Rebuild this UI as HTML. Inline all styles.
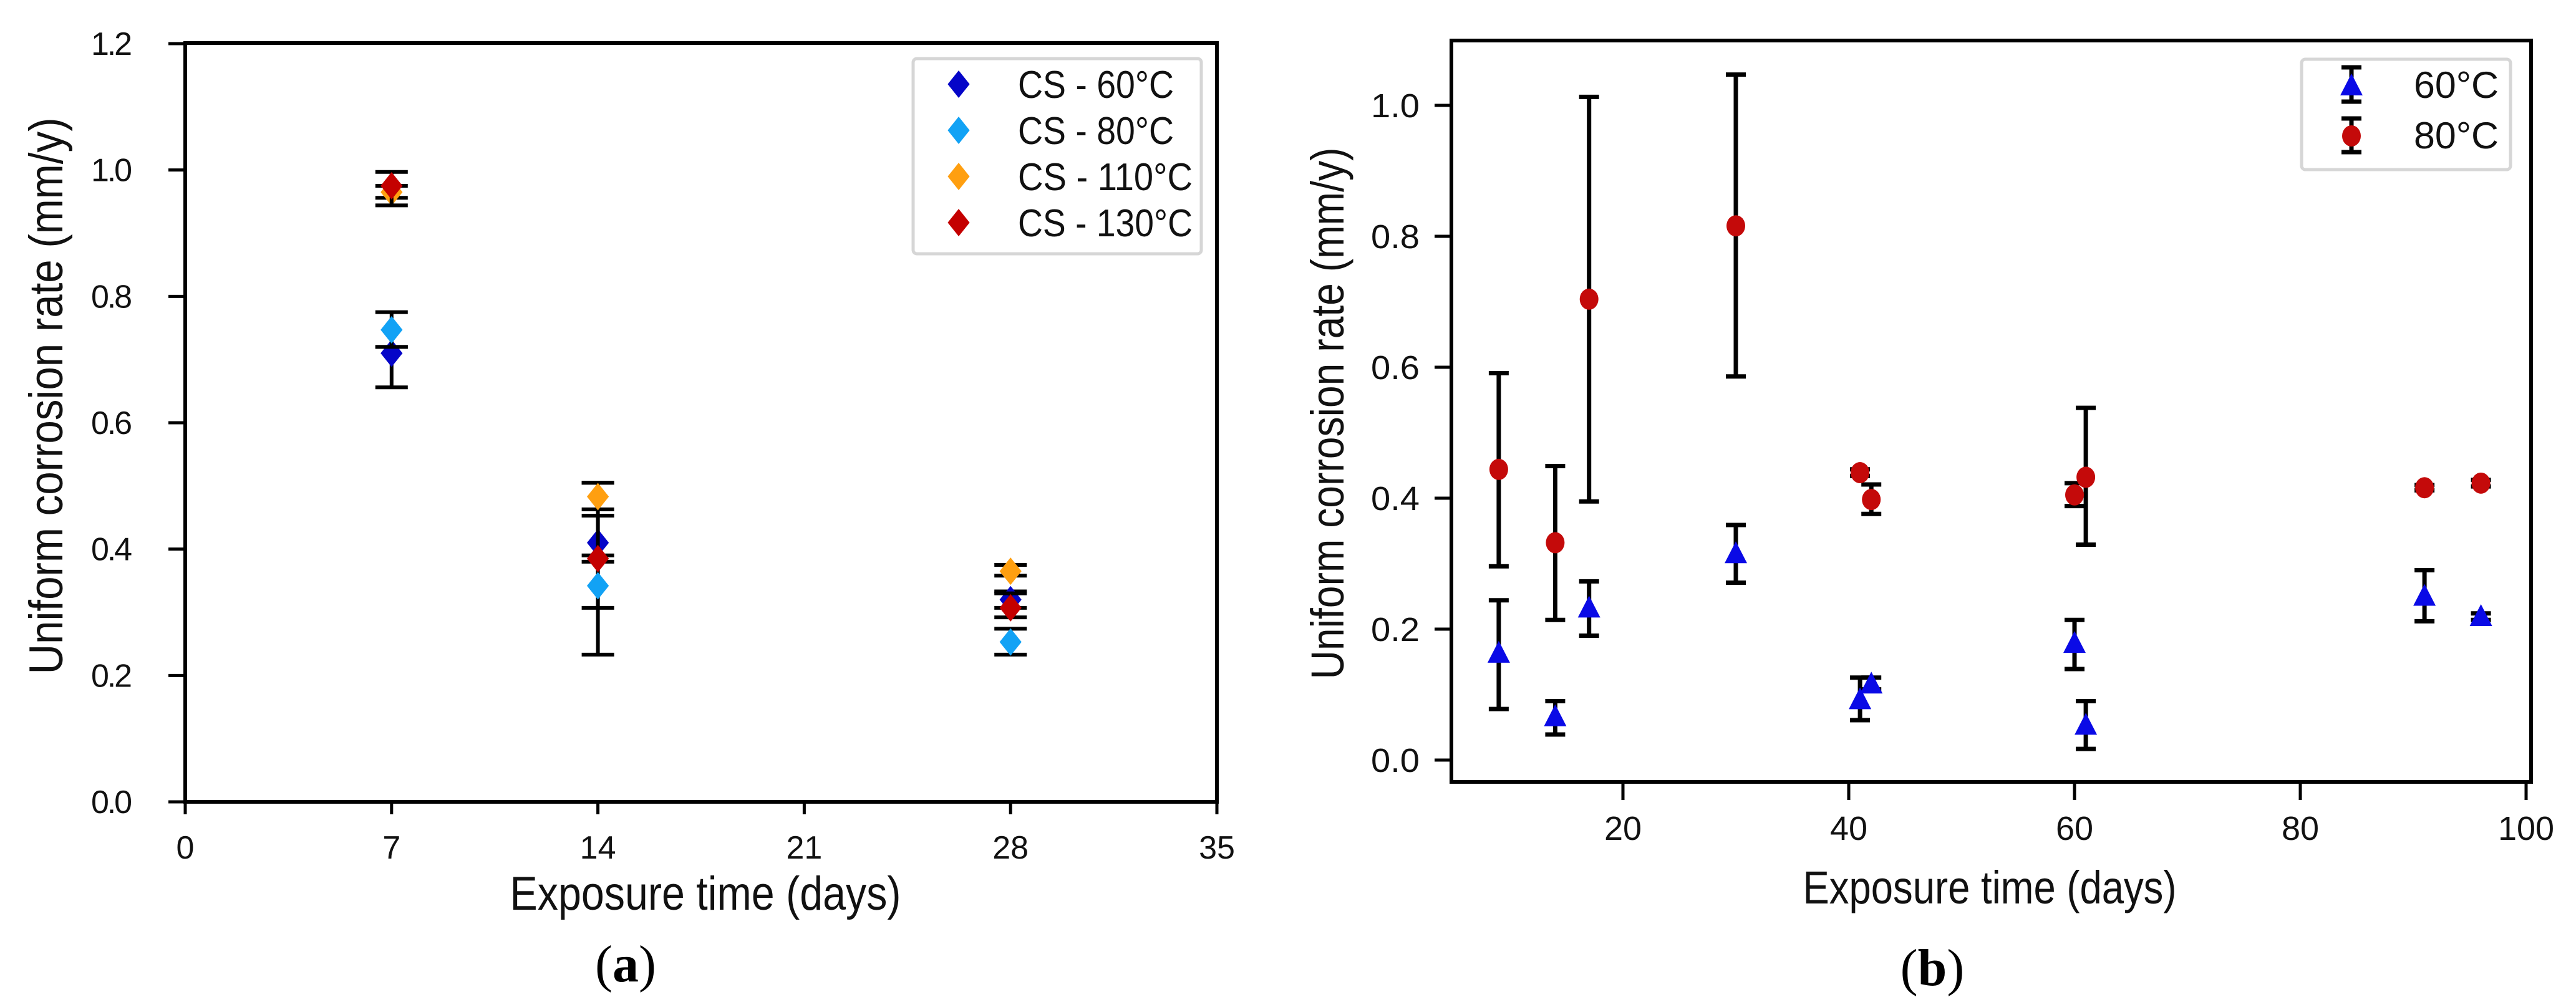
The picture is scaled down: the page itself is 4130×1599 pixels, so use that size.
<!DOCTYPE html>
<html><head><meta charset="utf-8"><style>
html,body{margin:0;padding:0;background:#fff;}
svg{display:block;font-family:"Liberation Sans",Arial,sans-serif;}
</style></head><body>
<svg id="fig" width="4130" height="1599" viewBox="0 0 4130 1599" xmlns="http://www.w3.org/2000/svg">
<rect x="0" y="0" width="4130" height="1599" fill="#fff"/>
</svg>
<script>
// ---------- Panel (a) data ----------
const aDays = [7, 14, 28];
const aSeriesNames = ["CS - 60°C", "CS - 80°C", "CS - 110°C", "CS - 130°C"];
const a60 = [0.71, 0.41, 0.32];
const a60Lo = [0.656, 0.307, 0.307];
const a60Hi = [0.72, 0.505, 0.333];
const a80 = [0.747, 0.342, 0.253];
const a80Lo = [0.72, 0.233, 0.233];
const a80Hi = [0.775, 0.453, 0.274];
const a110 = [0.965, 0.483, 0.365];
const a110Lo = [0.956, 0.463, 0.358];
const a110Hi = [0.975, 0.505, 0.375];
const a130 = [0.975, 0.385, 0.307];
const a130Lo = [0.944, 0.38, 0.292];
const a130Hi = [0.997, 0.39, 0.33];
const aXTicks = [0, 7, 14, 21, 28, 35];
const aYTicks = ["0.0", "0.2", "0.4", "0.6", "0.8", "1.0", "1.2"];

// ---------- Panel (b) data ----------
const bDays = [9, 14, 17, 30, 41, 42, 60, 61, 91, 96];
const b60 = [0.163, 0.066, 0.232, 0.315, 0.092, 0.116, 0.178, 0.053, 0.25, 0.219];
const b60Lo = [0.078, 0.039, 0.19, 0.271, 0.061, 0.108, 0.139, 0.017, 0.212, 0.214];
const b60Hi = [0.244, 0.09, 0.273, 0.359, 0.126, 0.126, 0.214, 0.09, 0.29, 0.224];
const b80 = [0.444, 0.332, 0.704, 0.816, 0.439, 0.398, 0.405, 0.432, 0.416, 0.423];
const b80Lo = [0.296, 0.214, 0.395, 0.586, 0.434, 0.376, 0.388, 0.329, 0.412, 0.418];
const b80Hi = [0.591, 0.449, 1.013, 1.047, 0.444, 0.421, 0.423, 0.538, 0.42, 0.428];
const bXTicks = [20, 40, 60, 80, 100];
const bYTicks = ["0.0", "0.2", "0.4", "0.6", "0.8", "1.0"];

const NS = "http://www.w3.org/2000/svg";
const svg = document.getElementById("fig");
function mk(tag, attrs, parent) {
  const e = document.createElementNS(NS, tag);
  for (const k in attrs) e.setAttribute(k, attrs[k]);
  (parent || svg).appendChild(e);
  return e;
}
function txt(str, attrs, parent) { const t = mk("text", attrs, parent); t.textContent = str; return t; }

const ax = d => 297 + (d - 0) * (1951 - 297) / 35;
const ay = v => 1286 - v * (1286 - 70) / 1.2;
const bx = d => 2602 + (d - 20) * (4050 - 2602) / 80;
const by = v => 1219 - v * 1050;

function diamond(cx, cy, r, fill, g) {
  return mk("polygon", {points: `${cx},${cy-r} ${cx+r*0.8},${cy} ${cx},${cy+r} ${cx-r*0.8},${cy}`, fill: fill}, g);
}
function errbar(x, y1, y2, cap, sw, g) {
  mk("line", {x1: x, x2: x, y1: y1, y2: y2, stroke: "#000", "stroke-width": sw}, g);
  mk("line", {x1: x-cap/2, x2: x+cap/2, y1: y1, y2: y1, stroke: "#000", "stroke-width": sw}, g);
  mk("line", {x1: x-cap/2, x2: x+cap/2, y1: y2, y2: y2, stroke: "#000", "stroke-width": sw}, g);
}

// ================= Panel (a) =================
const ga = mk("g", {});


const frameA = mk("rect", {x: 297, y: 69, width: 1654, height: 1217, fill: "none", stroke: "#000", "stroke-width": 6}, ga);


aYTicks.forEach((lab, i) => {
  const v = parseFloat(lab), y = ay(v);
  const tk = mk("line", {x1: 270, x2: 297, y1: y, y2: y, stroke: "#000", "stroke-width": 5}, ga);
  
  
  const t = txt(lab, {x: 212, y: y + 18, "font-size": 52, "text-anchor": "end", textLength: 66, fill: "#111"}, ga);
  
  
});
aXTicks.forEach(d => {
  const x = ax(d);
  const tk = mk("line", {x1: x, x2: x, y1: 1286, y2: 1306, stroke: "#000", "stroke-width": 5}, ga);
  
  
  const t = txt(String(d), {x: x, y: 1377, "font-size": 52, "text-anchor": "middle", fill: "#111"}, ga);
  
  
});
const xtA = txt("Exposure time (days)", {x: 1131, y: 1459, "font-size": 76, "text-anchor": "middle", textLength: 627, lengthAdjust: "spacingAndGlyphs", fill: "#111"}, ga);


const ytA = txt("Uniform corrosion rate (mm/y)", {x: 0, y: 0, "font-size": 76, "text-anchor": "middle", textLength: 893, lengthAdjust: "spacingAndGlyphs", fill: "#111", transform: "translate(100,635) rotate(-90)"}, ga);



const aSeries = [
  {v: a60, lo: a60Lo, hi: a60Hi, c: "#0505c8"},
  {v: a80, lo: a80Lo, hi: a80Hi, c: "#12a2f5"},
  {v: a110, lo: a110Lo, hi: a110Hi, c: "#ff9f10"},
  {v: a130, lo: a130Lo, hi: a130Hi, c: "#c40000"}
];
aSeries.forEach((s, si) => {
  const g = mk("g", {}, ga);
  
  
  aDays.forEach((d, i) => {
    const eb = mk("g", {}, g);
    
    
    errbar(ax(d), ay(s.hi[i]), ay(s.lo[i]), 52, 6, eb);
  });
  aDays.forEach((d, i) => {
    const p = diamond(ax(d), ay(s.v[i]), 22, s.c, g);
    
    
  });
});
const lgA = mk("g", {}, ga);


mk("rect", {x: 1464, y: 94, width: 462, height: 313, rx: 6, fill: "#fff", stroke: "#d6d6d6", "stroke-width": 5}, lgA);
aSeriesNames.forEach((n, i) => {
  const y = 135 + i * 74;
  const e = mk("g", {}, lgA);
  
  
  diamond(1537, y, 22, aSeries[i].c, e);
  txt(n, {x: 1632, y: y + 22, "font-size": 62, fill: "#111", textLength: i < 2 ? 250 : 280, lengthAdjust: "spacingAndGlyphs"}, e);
});
const capA = mk("text", {x: 1003, y: 1574, "font-size": 84, "text-anchor": "middle", "font-family": "Liberation Serif, serif", fill: "#000"});
capA.innerHTML = '(<tspan font-weight="bold">a</tspan>)';



// ================= Panel (b) =================
const gb = mk("g", {});


const frameB = mk("rect", {x: 2327, y: 65, width: 1731, height: 1189, fill: "none", stroke: "#000", "stroke-width": 6}, gb);


bYTicks.forEach(lab => {
  const y = by(parseFloat(lab));
  const tk = mk("line", {x1: 2300, x2: 2327, y1: y, y2: y, stroke: "#000", "stroke-width": 5}, gb);
  
  
  const t = txt(lab, {x: 2276, y: y + 19, "font-size": 54, "text-anchor": "end", textLength: 78, lengthAdjust: "spacingAndGlyphs", fill: "#111"}, gb);
  
  
});
bXTicks.forEach(d => {
  const x = bx(d);
  const tk = mk("line", {x1: x, x2: x, y1: 1254, y2: 1283, stroke: "#000", "stroke-width": 5}, gb);
  
  
  const t = txt(String(d), {x: x, y: 1347, "font-size": 54, "text-anchor": "middle", fill: "#111"}, gb);
  
  
});
const xtB = txt("Exposure time (days)", {x: 3190, y: 1449, "font-size": 74, "text-anchor": "middle", textLength: 599, lengthAdjust: "spacingAndGlyphs", fill: "#111"}, gb);


const ytB = txt("Uniform corrosion rate (mm/y)", {x: 0, y: 0, "font-size": 74, "text-anchor": "middle", textLength: 853, lengthAdjust: "spacingAndGlyphs", fill: "#111", transform: "translate(2154,663) rotate(-90)"}, gb);



function tri(cx, cy, r, fill, g) {
  return mk("polygon", {points: `${cx},${cy-r} ${cx+r*0.9},${cy+r*0.75} ${cx-r*0.9},${cy+r*0.75}`, fill: fill}, g);
}
const g60 = mk("g", {}, gb);


const g80 = mk("g", {}, gb);


bDays.forEach((d, i) => {
  const e1 = mk("g", {}, g60);
  
  
  errbar(bx(d), by(b60Hi[i]), by(b60Lo[i]), 32, 7, e1);
  const e2 = mk("g", {}, g80);
  
  
  errbar(bx(d), by(b80Hi[i]), by(b80Lo[i]), 32, 7, e2);
});
bDays.forEach((d, i) => {
  const t = tri(bx(d), by(b60[i]), 20, "#0a0ae6", g60);
  
  
  const c = mk("ellipse", {cx: bx(d), cy: by(b80[i]), rx: 15, ry: 17, fill: "#c40a0a"}, g80);
  
  
});
const lgB = mk("g", {}, gb);


mk("rect", {x: 3690, y: 95, width: 335, height: 177, rx: 6, fill: "#fff", stroke: "#d6d6d6", "stroke-width": 5}, lgB);
const le1 = mk("g", {}, lgB);


errbar(3770, 108, 163, 32, 7, le1);
tri(3770, 138, 20, "#0a0ae6", le1);
txt("60°C", {x: 3870, y: 157, "font-size": 60, fill: "#111", textLength: 136, lengthAdjust: "spacingAndGlyphs"}, le1);
const le2 = mk("g", {}, lgB);


errbar(3770, 190, 244, 32, 7, le2);
mk("ellipse", {cx: 3770, cy: 218, rx: 15, ry: 17, fill: "#c40a0a"}, le2);
txt("80°C", {x: 3870, y: 238, "font-size": 60, fill: "#111", textLength: 136, lengthAdjust: "spacingAndGlyphs"}, le2);
const capB = mk("text", {x: 3098, y: 1580, "font-size": 84, "text-anchor": "middle", "font-family": "Liberation Serif, serif", fill: "#000"});
capB.innerHTML = '(<tspan font-weight="bold">b</tspan>)';


</script>
</body></html>
